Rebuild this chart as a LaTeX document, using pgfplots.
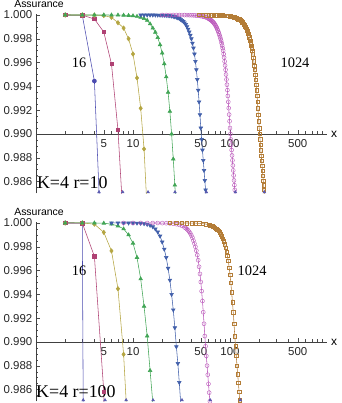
\documentclass[border=0pt]{standalone}
\usepackage{fontspec}
\setmainfont{Liberation Sans}
\newfontfamily\tms{Liberation Serif}
\usepackage{pgfplots}
\pgfplotsset{compat=1.18}
\definecolor{c1}{RGB}{75,75,175}
\definecolor{c2}{RGB}{175,65,115}
\definecolor{c3}{RGB}{180,165,65}
\definecolor{c4}{RGB}{65,165,85}
\definecolor{c5}{RGB}{65,95,170}
\definecolor{c6}{RGB}{185,85,185}
\definecolor{c7}{RGB}{180,125,55}
\definecolor{ci}{RGB}{90,90,175}
\pgfplotsset{
 s1/.style={color=c1, mark=*, mark size=2bp, mark options={solid}},
 s2/.style={color=c2, mark=square*, mark size=1.7bp, mark options={solid}},
 s3/.style={color=c3, mark=diamond*, mark size=2.2bp, mark options={solid}},
 s4/.style={color=c4, mark=triangle*, mark size=2.1bp, mark options={solid}},
 s5/.style={color=c5, mark=triangle*, mark size=2.1bp, mark options={solid, rotate=180}},
 s6/.style={color=c6, mark=o, mark size=2bp, mark options={solid, line width=0.4bp}},
 s7/.style={color=c7, mark=square, mark size=1.7bp, mark options={solid, line width=0.4bp}},
 ind/.style={color=ci, only marks, mark=triangle*, mark size=1.5bp},
}
\begin{document}
\begin{tikzpicture}
\useasboundingbox (0,0) rectangle (342bp,403bp);
% ---------------- top panel: K=4 r=10
\begin{axis}[
  at={(36bp,209.5bp)}, anchor=south west,
  scale only axis, width=291bp, height=179.7bp,
  xmode=log, xmin=1, xmax=1000, ymin=-5, ymax=10.1,
  axis x line*=middle, axis y line*=left,
  y filter/.expression={(y-0.99)*1000},
  xtick={5,10,50,100,500}, xticklabels={5,10,50,100,500},
  minor xtick={2,3,4,6,7,8,9,20,30,40,60,70,80,90,200,300,400,600,700,800,900},
  ytick={-4,-2,0,2,4,6,8,10},
  yticklabels={0.986,0.988,0.990,0.992,0.994,0.996,0.998,1.000},
  minor ytick={-4.5,-3.5,-3,-2.5,-1.5,-1,-0.5,0.5,1,1.5,2.5,3,3.5,4.5,5,5.5,6.5,7,7.5,8.5,9,9.5},
  tick align=inside, major tick length=4bp, minor tick length=2.5bp,
  tick style={black!70, line width=0.4bp},
  axis line style={black!75, line width=0.55bp},
  ticklabel style={font=\fontsize{11.5}{12}\selectfont, text=black!85},
  xticklabel style={anchor=north, inner sep=0pt, yshift=-5bp},
  yticklabel style={anchor=east, inner sep=0pt, xshift=-3.5bp},
  every axis plot/.append style={line width=0.55bp},
]
\addplot[s1] coordinates {(2,1) (3,0.99998) (4,0.99445) (5,0.9756)};
\addplot[s2] coordinates {(2,1) (3,0.99999) (4,0.99966) (5,0.99857) (6,0.99588) (7,0.99034) (8,0.9822)};
\addplot[s3] coordinates {(2,1) (3,1) (4,0.99999) (5,0.99995) (6,0.9998) (7,0.99935) (8,0.9989) (9,0.998) (10,0.99672) (11,0.99471) (12,0.99216) (13,0.98874) (14,0.9835)};
\addplot[s4] coordinates {(2,1) (3,1) (4,1) (5,1) (6,0.999995) (7,0.99999) (8,0.99998) (9,0.99996) (10,0.99993) (11,0.99988) (12,0.9998) (13,0.9997) (14,0.99955) (15,0.99925) (16,0.9989) (17,0.99855) (18,0.9981) (19,0.9975) (20,0.9968) (21,0.9959) (22,0.9948) (23,0.9935) (24,0.9919) (25,0.99) (26,0.9879) (27,0.9857) (28,0.9833)};
\addplot[s5] coordinates {(12,0.999999) (13,0.999999) (14,0.999998) (15,0.999997) (16,0.999996) (17,0.999993) (18,0.99999) (19,0.999986) (20,0.99998) (21,0.999972) (22,0.999961) (23,0.999947) (24,0.99993) (25,0.99991) (26,0.99988) (27,0.99985) (28,0.999808) (29,0.99976) (30,0.9997) (31,0.99963) (32,0.99955) (33,0.99945) (34,0.99934) (35,0.9992) (36,0.99902) (37,0.99881) (38,0.99857) (39,0.9983) (40,0.998) (41,0.99763) (42,0.99722) (43,0.99672) (44,0.9961) (45,0.9954) (46,0.99458) (47,0.99368) (48,0.9927) (49,0.99163) (50,0.9905) (51,0.98955) (52,0.98865) (53,0.98778) (54,0.98694) (55,0.9861) (56,0.9853) (57,0.9845) (58,0.9837)};
\addplot[s6] coordinates {(20,1) (22,1) (24,0.999999) (26,0.999999) (28,0.999998) (30,0.999997) (32,0.999996) (34,0.999993) (36,0.99999) (38,0.999986) (40,0.99998) (42,0.999972) (44,0.999961) (46,0.999947) (48,0.99993) (50,0.99991) (52,0.99988) (54,0.99985) (56,0.999808) (58,0.99976) (60,0.9997) (61,0.99966) (62,0.99963) (63,0.99959) (64,0.99955) (65,0.9995) (66,0.99945) (67,0.9994) (68,0.99934) (69,0.99927) (70,0.9992) (71,0.99911) (72,0.99902) (73,0.99892) (74,0.99881) (75,0.9987) (76,0.99857) (77,0.99844) (78,0.9983) (79,0.99815) (80,0.998) (81,0.99782) (82,0.99763) (83,0.99743) (84,0.99722) (85,0.997) (86,0.99672) (87,0.99642) (88,0.9961) (89,0.99576) (90,0.9954) (91,0.995) (92,0.99458) (93,0.99414) (94,0.99368) (95,0.9932) (96,0.9927) (97,0.99217) (98,0.99163) (99,0.99107) (100,0.9905) (101,0.99) (102,0.98955) (103,0.9891) (104,0.98865) (105,0.9882) (106,0.98778) (107,0.98736) (108,0.98694) (109,0.98652) (110,0.9861) (111,0.9857) (112,0.9853) (113,0.9849) (114,0.9845) (115,0.9841)};
\addplot[s7] coordinates {(48,0.999999) (52,0.999999) (56,0.999998) (60,0.999997) (64,0.999996) (68,0.999993) (72,0.99999) (76,0.999986) (80,0.99998) (84,0.999972) (88,0.999961) (92,0.999947) (96,0.99993) (100,0.99991) (102,0.999895) (104,0.99988) (106,0.99987) (108,0.99985) (110,0.99983) (112,0.999808) (114,0.999785) (116,0.99976) (118,0.99973) (120,0.9997) (122,0.99966) (124,0.99963) (126,0.99959) (128,0.99955) (130,0.9995) (132,0.99945) (134,0.9994) (136,0.99934) (138,0.99927) (140,0.9992) (142,0.99911) (144,0.99902) (146,0.99892) (148,0.99881) (150,0.9987) (152,0.99857) (154,0.99844) (156,0.9983) (158,0.99815) (160,0.998) (162,0.99782) (164,0.99763) (166,0.99743) (168,0.99722) (170,0.997) (172,0.99672) (174,0.99642) (176,0.9961) (178,0.99576) (180,0.9954) (182,0.995) (184,0.99458) (186,0.99414) (188,0.99368) (190,0.9932) (192,0.9927) (194,0.99217) (196,0.99163) (198,0.99107) (200,0.9905) (202,0.99) (204,0.98955) (206,0.9891) (208,0.98865) (210,0.9882) (212,0.98778) (214,0.98736) (216,0.98694) (218,0.98652) (220,0.9861) (222,0.9857) (224,0.9853) (226,0.9849) (228,0.9845) (230,0.9841)};
\addplot[ind] coordinates {(4.46,0.98512) (7.83,0.98512) (14.3,0.98512) (27.1,0.98512) (57,0.98512) (113.5,0.98512) (226,0.98512)};
\node[font=\tms\fontsize{14.5}{15}\selectfont] at (axis cs:2.78,5.97) {16};
\node[font=\tms\fontsize{14.5}{15}\selectfont] at (axis cs:468,6.0) {1024};
\node[font=\tms\fontsize{18}{19}\selectfont, anchor=west, inner sep=0pt] at (axis cs:1.02,-4.09) {K=4 r=10};
\coordinate (TA) at (axis cs:1,10);
\coordinate (TX) at (axis cs:1000,0);
\end{axis}
\node[anchor=base, font=\fontsize{10.5}{11}\selectfont, inner sep=0pt] at ([xshift=3bp,yshift=7bp]TA) {Assurance};
\node[anchor=west, font=\fontsize{12}{12}\selectfont, inner sep=0pt] at ([xshift=4bp]TX) {x};
% ---------------- bottom panel: K=4 r=100
\begin{axis}[
  at={(36bp,1.5bp)}, anchor=south west,
  scale only axis, width=291bp, height=179.7bp,
  xmode=log, xmin=1, xmax=1000, ymin=-5, ymax=10.1,
  axis x line*=middle, axis y line*=left,
  y filter/.expression={(y-0.99)*1000},
  xtick={5,10,50,100,500}, xticklabels={5,10,50,100,500},
  minor xtick={2,3,4,6,7,8,9,20,30,40,60,70,80,90,200,300,400,600,700,800,900},
  ytick={-4,-2,0,2,4,6,8,10},
  yticklabels={0.986,0.988,0.990,0.992,0.994,0.996,0.998,1.000},
  minor ytick={-4.5,-3.5,-3,-2.5,-1.5,-1,-0.5,0.5,1,1.5,2.5,3,3.5,4.5,5,5.5,6.5,7,7.5,8.5,9,9.5},
  tick align=inside, major tick length=4bp, minor tick length=2.5bp,
  tick style={black!70, line width=0.4bp},
  axis line style={black!75, line width=0.55bp},
  ticklabel style={font=\fontsize{11.5}{12}\selectfont, text=black!85},
  xticklabel style={anchor=north, inner sep=0pt, yshift=-5bp},
  yticklabel style={anchor=east, inner sep=0pt, xshift=-3.5bp},
  every axis plot/.append style={line width=0.55bp},
]
\addplot[s1] coordinates {(2,1) (3,0.99999) (4,0.8)};
\addplot[s2] coordinates {(2,1) (3,0.99999) (4,0.9972) (5,0.9858) (6,0.95)};
\addplot[s3] coordinates {(2,1) (3,1) (4,0.9999) (5,0.99921) (6,0.99765) (7,0.99447) (8,0.98896) (9,0.9813)};
\addplot[s4] coordinates {(2,1) (3,1) (4,1) (5,0.99998) (6,0.9999) (7,0.99975) (8,0.9995) (9,0.999) (10,0.9983) (11,0.9971) (12,0.9953) (13,0.993) (14,0.9905) (15,0.9876) (16,0.9849) (17,0.982)};
\addplot[s5] coordinates {(6,1) (7,1) (8,0.999999) (9,0.999998) (10,0.999995) (11,0.99999) (12,0.99997) (13,0.99994) (14,0.99988) (15,0.9998) (16,0.99968) (17,0.9995) (18,0.99925) (19,0.9989) (20,0.9984) (21,0.9978) (22,0.9971) (23,0.9962) (24,0.9952) (25,0.994) (26,0.9927) (27,0.9912) (28,0.9896) (29,0.9882) (30,0.9866) (31,0.9849) (32,0.9831)};
\addplot[s6] coordinates {(8,1) (10,1) (12,1) (14,0.999999) (16,0.999997) (18,0.999995) (20,0.999989) (22,0.99998) (24,0.999963) (26,0.999936) (28,0.999897) (30,0.99984) (32,0.999756) (34,0.99963) (35,0.99957) (36,0.99948) (37,0.99938) (38,0.99926) (39,0.99912) (40,0.99895) (41,0.99876) (42,0.99852) (43,0.99827) (44,0.998) (45,0.99767) (46,0.9973) (47,0.99687) (48,0.99632) (49,0.99572) (50,0.99504) (51,0.99427) (52,0.99344) (53,0.9925) (54,0.99153) (55,0.9905) (56,0.98964) (57,0.98883) (58,0.98801) (59,0.98725) (60,0.98648) (61,0.98574) (62,0.98502) (63,0.9843) (64,0.9835)};
\addplot[s7] coordinates {(24,1) (28,0.999999) (32,0.999998) (36,0.999996) (40,0.99999) (44,0.999982) (48,0.999967) (52,0.999944) (56,0.99991) (60,0.99986) (62,0.99982) (64,0.99978) (66,0.99973) (68,0.99967) (70,0.99961) (72,0.99953) (74,0.99944) (76,0.99935) (78,0.99922) (80,0.99907) (82,0.9989) (84,0.9987) (86,0.99847) (88,0.99821) (90,0.99793) (92,0.99759) (94,0.99724) (96,0.99681) (98,0.99626) (100,0.99566) (102,0.99496) (104,0.99418) (106,0.99334) (108,0.9925) (110,0.99153) (112,0.9905) (114,0.98964) (116,0.98883) (118,0.98801) (120,0.98728) (122,0.98656) (124,0.98582) (126,0.9851) (128,0.98438) (130,0.98365)};
\addplot[ind] coordinates {(3.07,0.98512) (5.15,0.98512) (8.5,0.98512) (16.1,0.98512) (32,0.98512) (62.5,0.98512) (128,0.98512)};
\node[font=\tms\fontsize{14.5}{15}\selectfont] at (axis cs:2.78,6.0) {16};
\node[font=\tms\fontsize{14.5}{15}\selectfont] at (axis cs:169,6.0) {1024};
\node[font=\tms\fontsize{18}{19}\selectfont, anchor=west, inner sep=0pt] at (axis cs:1.0,-4.2) {K=4 r=100};
\coordinate (BA) at (axis cs:1,10);
\coordinate (BX) at (axis cs:1000,0);
\end{axis}
\node[anchor=base, font=\fontsize{10.5}{11}\selectfont, inner sep=0pt] at ([xshift=3bp,yshift=7.5bp]BA) {Assurance};
\node[anchor=west, font=\fontsize{12}{12}\selectfont, inner sep=0pt] at ([xshift=4bp]BX) {x};
\end{tikzpicture}
\end{document}
